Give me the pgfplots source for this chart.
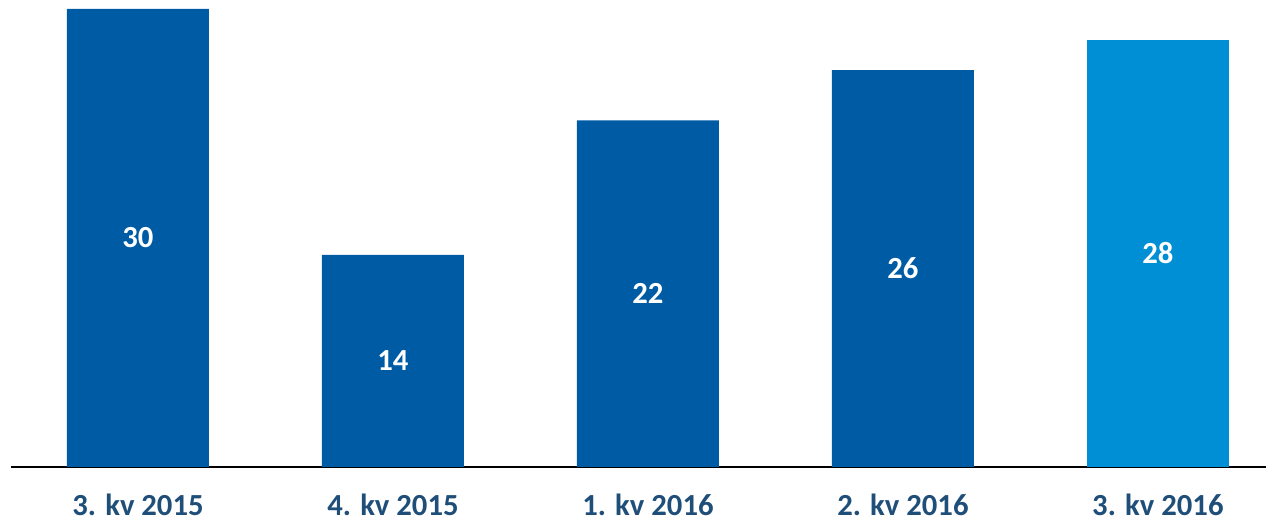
\documentclass[border=0pt]{standalone}
\usepackage{fontspec}
\setmainfont{Carlito}
\usepackage{pgfplots}
\pgfplotsset{compat=1.18}
\usepackage{pgfplotstable}

\definecolor{darkblue}{HTML}{005BA5}
\definecolor{lightblue}{HTML}{008ED4}
\definecolor{labelblue}{HTML}{1F4E79}

% heights, labels as printed
\pgfplotstableread{
x  y     lab
0  30.0  30
1  13.9  14
2  22.7  22
3  26.0  26
}\kvdata
\pgfplotstableread{
x  y     lab
4  28.0  28
}\kvlast

\begin{document}
\begin{tikzpicture}
\begin{axis}[
    scale only axis,
    width=941.25pt, height=350.25pt,
    xmin=-0.498, xmax=4.424,
    ymin=0, ymax=30.59,
    ybar, bar width=106.5pt, bar shift=0pt,
    axis x line*=bottom, axis y line=none,
    x axis line style={-, black, line width=1.3pt},
    xtick={0,1,2,3,4},
    xticklabels={3. kv 2015, 4. kv 2015, 1. kv 2016, 2. kv 2016, 3. kv 2016},
    major tick length=0pt,
    xticklabel style={anchor=base, yshift=-36.5pt, text=labelblue,
        font=\fontsize{23}{28}\selectfont\bfseries},
    ytick=\empty,
    point meta=explicit symbolic,
    nodes near coords,
    visualization depends on={rawy \as \rawy},
    every node near coord/.append style={anchor=center, text=white,
        yshift={-5.725*\rawy},
        font=\fontsize{23}{28}\selectfont\bfseries},
    clip=false,
]
\addplot[draw=none, fill=darkblue] table[x=x, y=y, meta=lab] {\kvdata};
\addplot[draw=none, fill=lightblue] table[x=x, y=y, meta=lab] {\kvlast};
\coordinate (bl) at (rel axis cs:0,0);
\coordinate (tr) at (rel axis cs:1,1);
\end{axis}
\pgfresetboundingbox
\useasboundingbox ([xshift=-8.25pt, yshift=-39pt]bl) rectangle (tr);
\end{tikzpicture}
\end{document}
